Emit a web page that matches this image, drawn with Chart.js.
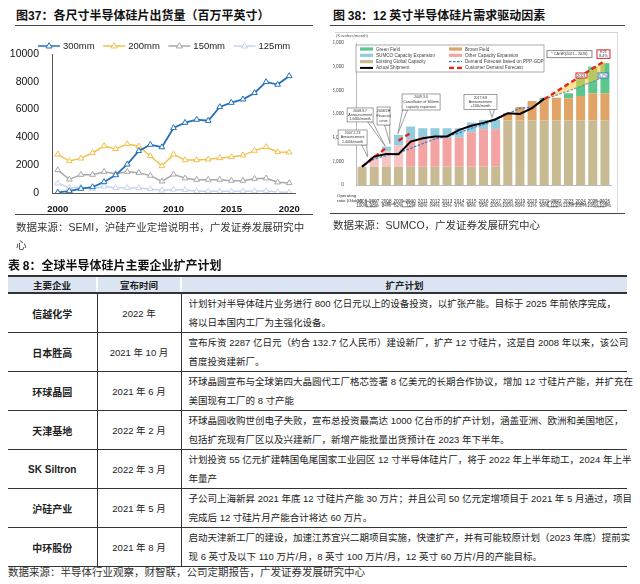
<!DOCTYPE html>
<html lang="zh-CN">
<head>
<meta charset="utf-8">
<script src="https://cdn.jsdelivr.net/npm/chart.js@4.4.1/dist/chart.umd.min.js"></script>
<style>
  body { margin: 0; width: 640px; height: 584px; position: relative; overflow: hidden; background: #fff;
    font-family: "Liberation Sans", "Noto Sans CJK SC", sans-serif; color: #222; }
  .abs { position: absolute; white-space: nowrap; }
  .title { font-size: 12px; font-weight: bold; line-height: 16px; color: #111; font-family: "Noto Sans CJK SC", sans-serif; }
  .title span { font-family: "Liberation Sans", sans-serif; }
  .rule { position: absolute; height: 0; border-top: 1.5px solid #444; }
  .src { font-size: 10.5px; line-height: 16px; color: #333; text-align: justify; text-align-last: justify; }
  .frame { position: absolute; border-top: 1.5px solid #d4d4d4; border-right: 1px solid #dcdcdc; }
  .box { position: absolute; }

  .tb { position: absolute; left: 8px; top: 275px; width: 619px; border-collapse: collapse; table-layout: fixed; }
  .tb th { height: 15px; padding: 0; background: #dbe5f1; border-top: 2px solid #333; border-bottom: 2px solid #333;
    border-left: 2px solid #fff; font-size: 9.5px; font-weight: bold; font-family: "Noto Sans CJK SC", sans-serif; }
  .tb th:first-child { border-left: none; }
  .tb td { height: 37px; padding: 0; border-bottom: 1.5px solid #333; text-align: center; vertical-align: middle; font-size: 9.5px; }
  .tb td + td { border-left: 1.5px solid #333; }
  .tb td.co { font-weight: bold; font-size: 10px; }
  .tb td.pl { text-align: left; padding: 0 12px 0 7px; }
  .pl div { line-height: 19px; white-space: nowrap; }
  .pl div.j { text-align: justify; text-align-last: justify; }
</style>
</head>
<body>

<div class="abs title" style="left:16px; top:7px;">图<span>37</span>：各尺寸半导体硅片出货量（百万平英寸）</div>
<div class="rule" style="left:15px; top:25px; width:298px;"></div>
<div class="box" style="left:10px; top:30px; width:303px; height:185px;"><canvas id="c37"></canvas></div>
<div class="rule" style="left:15px; top:214px; width:298px;"></div>
<div class="abs src" style="left:16px; top:219px; width:284px;">数据来源：SEMI，沪硅产业定增说明书，广发证券发展研究中</div>
<div class="abs src" style="left:16px; top:237px; text-align:left; text-align-last:left;">心</div>

<div class="abs title" style="left:333px; top:7px;">图 <span>38</span>：<span>12</span> 英寸半导体硅片需求驱动因素</div>
<div class="rule" style="left:330px; top:25px; width:295px;"></div>
<div class="frame" style="left:335px; top:32px; width:282px; height:180px;"></div>
<div class="box" style="left:333px; top:30px; width:287px; height:185px;"><canvas id="c38"></canvas></div>
<div class="rule" style="left:330px; top:213px; width:295px;"></div>
<div class="abs src" style="left:333px; top:217px; width:204px;">数据来源：SUMCO，广发证券发展研究中心</div>

<div class="abs title" style="left:8px; top:257px;">表 <span>8</span>：全球半导体硅片主要企业扩产计划</div>
<table class="tb">
  <colgroup><col style="width:89px"><col style="width:84px"><col></colgroup>
  <thead><tr><th>主要企业</th><th>宣布时间</th><th>扩产计划</th></tr></thead>
  <tbody>
    <tr><td class="co">信越化学</td><td>2022 年</td>
      <td class="pl"><div class="j">计划针对半导体硅片业务进行 800 亿日元以上的设备投资，以扩张产能。目标于 2025 年前依序完成，</div><div>将以日本国内工厂为主强化设备。</div></td></tr>
    <tr><td class="co">日本胜高</td><td>2021 年 10 月</td>
      <td class="pl"><div class="j">宣布斥资 2287 亿日元（约合 132.7 亿人民币）建设新厂，扩产 12 寸硅片，这是自 2008 年以来，该公司</div><div>首度投资建新厂。</div></td></tr>
    <tr><td class="co">环球晶圆</td><td>2021 年 6 月</td>
      <td class="pl"><div class="j">环球晶圆宣布与全球第四大晶圆代工厂格芯签署 8 亿美元的长期合作协议，增加 12 寸硅片产能，并扩充在</div><div>美国现有工厂的 8 寸产能</div></td></tr>
    <tr><td class="co">天津基地</td><td>2022 年 2 月</td>
      <td class="pl"><div class="j">环球晶圆收购世创电子失败，宣布总投资最高达 1000 亿台币的扩产计划，涵盖亚洲、欧洲和美国地区，</div><div>包括扩充现有厂区以及兴建新厂，新增产能批量出货预计在 2023 年下半年。</div></td></tr>
    <tr><td class="co">SK Siltron</td><td>2022 年 3 月</td>
      <td class="pl"><div class="j">计划投资 55 亿元扩建韩国龟尾国家工业园区 12 寸半导体硅片厂，将于 2022 年上半年动工，2024 年上半</div><div>年量产</div></td></tr>
    <tr><td class="co">沪硅产业</td><td>2021 年 5 月</td>
      <td class="pl"><div class="j">子公司上海新昇 2021 年底 12 寸硅片产能 30 万片；并且公司 50 亿元定增项目于 2021 年 5 月通过，项目</div><div>完成后 12 寸硅片月产能合计将达 60 万片。</div></td></tr>
    <tr><td class="co">中环股份</td><td>2021 年 8 月</td>
      <td class="pl"><div class="j">启动天津新工厂的建设，加速江苏宜兴二期项目实施，快速扩产，并有可能较原计划（2023 年底）提前实</div><div>现 6 英寸及以下 110 万片/月，8 英寸 100 万片/月，12 英寸 60 万片/月的产能目标。</div></td></tr>
  </tbody>
</table>
<div class="abs src" style="left:8px; top:564px; width:355px;">数据来源：半导体行业观察，财智联，公司定期报告，广发证券发展研究中心</div>

<script>
Chart.defaults.font.family = '"Liberation Sans", Arial, sans-serif';
Chart.defaults.color = '#222';
Chart.defaults.animation = false;

// Figure 37: wafer shipments by diameter (million square inches)
const years37 = ['2000', '2001', '2002', '2003', '2004', '2005', '2006', '2007', '2008', '2009', '2010',
  '2011', '2012', '2013', '2014', '2015', '2016', '2017', '2018', '2019', '2020'];
const w300 = [50, 140, 310, 430, 790, 1290, 2060, 3030, 3480, 3300, 4680, 5060, 5280, 5200, 6190, 6500, 6740, 7200, 7990, 7800, 8420];
const w200 = [2780, 2300, 2490, 2880, 3380, 3170, 3530, 3360, 2660, 1940, 2780, 2370, 2370, 2420, 2520, 2590, 2710, 3050, 3310, 2950, 2930];
const w150 = [1650, 980, 1320, 1320, 1530, 1390, 1530, 1460, 1250, 840, 1340, 1060, 960, 960, 960, 890, 890, 1030, 1060, 770, 720];
const w125 = [700, 380, 410, 310, 480, 360, 360, 360, 290, 190, 260, 220, 120, 120, 120, 120, 120, 140, 140, 70, 50];
const yTicks37 = [0, 2000, 4000, 6000, 8000, 10000];

// Figure 38: 12-inch wafer demand drivers (K wafers/month)
const years38 = ['2006', '2007', '2008', '2009', '2010', '2011', '2012', '2013', '2014', '2015', '2016',
  '2017', '2018', '2019', '2020', '2021', '2022', '2023', '2024', '2025', '2026'];
const opRatio = ['100%', '98%', '84%', '62%', '72%', '80%', '84%', '83%', '97%', '98%', '95%',
  '100%', '100%', '89%', '91%', '98%', '102%', '110%', '108%', '106%', '105%'];
const existingCap = [1550, 1550, 1550, 1550, 1550, 1550, 1550, 1550, 1550, 1550, 1550, 1550, 5450, 5450, 5450, 5450, 5450, 5450, 5450, 5450, 5450];
const otherExp = [null, 850, 1330, 1780, 2320, 2450, 2450, 2450, 2450, 2910, 3170, 3170, null, null, null, null, null, null, null, null, null];
const sumcoExp = [null, null, 370, 910, 1070, 800, 800, 800, 800, 820, 780, 780, null, null, null, null, null, null, null, null, null];
const brownField = [null, null, null, null, null, null, null, null, null, null, null, null, 640, 1140, 1650, 1800, 1930, 1870, 2070, 2300, 2300];
const greenField = [null, null, null, null, null, null, null, null, null, null, null, null, null, null, null, 130, null, 430, 1500, 2250, 2550];
const actualShip = [1550, 2400, 2630, 2600, 3670, 3950, 4100, 4100, 4660, 5000, 5250, 5560, 6070, 6000, 6500, 7300, null, null, null, null, null];
const demandPPP = [1550, 2200, 2500, 2700, 3100, 3500, 3900, 4100, 4400, 4800, 5100, 5500, 6000, 6500, 6550, 7250, 7600, 7950, 8350, 8750, 9200];
const customerEarly = [1550, 2350, 3150, 3750, 4400, null, null, null, null, null, null, null, null, null, null, null, null, null, null, null, null];
const customerLate = [null, null, null, null, null, null, null, null, null, null, null, null, null, null, null, 7250, 7900, 8550, 9200, 9850, 10500];
const yTicks38 = [0, 2000, 4000, 6000, 8000, 10000, 12000];

function triangle(ctx, x, y, r, stroke) {
  ctx.beginPath();
  ctx.moveTo(x, y - r);
  ctx.lineTo(x + r * 0.95, y + r * 0.6);
  ctx.lineTo(x - r * 0.95, y + r * 0.6);
  ctx.closePath();
  ctx.fillStyle = '#fff';
  ctx.fill();
  ctx.lineWidth = 1;
  ctx.strokeStyle = stroke;
  ctx.stroke();
}

// legend: line with a hollow triangle, as in the source
const lineLegend = {
  id: 'lineLegend',
  afterDraw(chart) {
    const { ctx, chartArea } = chart;
    const y = chartArea.top - 8;
    let x = chartArea.left - 14;
    ctx.save();
    ctx.font = '9.5px "Liberation Sans"';
    ctx.textBaseline = 'middle';
    chart.data.datasets.forEach(ds => {
      ctx.strokeStyle = ds.borderColor;
      ctx.lineWidth = 1.5;
      ctx.beginPath();
      ctx.moveTo(x, y);
      ctx.lineTo(x + 22, y);
      ctx.stroke();
      triangle(ctx, x + 11, y, 3.3, ds.borderColor);
      ctx.fillStyle = '#222';
      ctx.fillText(ds.label, x + 25, y + 0.5);
      x += 25 + ctx.measureText(ds.label).width + 8.5;
    });
    ctx.restore();
  }
};

function lineSet(label, data, color, width) {
  return {
    label, data, borderColor: color, borderWidth: width,
    pointStyle: 'triangle', pointRadius: 3.3, pointBorderWidth: 1,
    pointBackgroundColor: '#fff', pointBorderColor: color, tension: 0
  };
}

new Chart(document.getElementById('c37'), {
  type: 'line',
  data: {
    labels: years37,
    datasets: [
      lineSet('300mm', w300, '#2470b8', 1.8),
      lineSet('200mm', w200, '#f0c14a', 1.5),
      lineSet('150mm', w150, '#a8a8a8', 1.5),
      lineSet('125mm', w125, '#c5d5ef', 1.5)
    ]
  },
  options: {
    responsive: true, maintainAspectRatio: false,
    layout: { padding: { top: 24, right: 18, left: 0, bottom: 0 } },
    plugins: { legend: { display: false }, tooltip: { enabled: false } },
    scales: {
      x: {
        offset: true,
        afterFit(scale) { scale.height = 22; },
        grid: { display: false },
        border: { color: '#555', width: 1 },
        ticks: {
          autoSkip: false, maxRotation: 0, padding: 3, color: '#111',
          font: { size: 9.5, weight: 'bold' },
          callback(v, i) { return Number(years37[i]) % 5 === 0 ? years37[i] : ''; }
        }
      },
      y: {
        min: 0, max: 10000,
        afterFit(scale) { scale.width = 42; },
        afterBuildTicks(scale) { scale.ticks = yTicks37.map(v => ({ value: v })); },
        grid: { display: false },
        border: { color: '#555', width: 1 },
        ticks: { padding: 5, color: '#111', font: { size: 10.5 }, callback(v) { return String(v); } }
      }
    }
  },
  plugins: [lineLegend]
});

// ---------- Figure 38 decorations ----------
function callout(ctx, lines, cx, cy, w, h, tx, ty) {
  const l = cx - w / 2, t = cy - h / 2;
  ctx.fillStyle = '#fff';
  ctx.strokeStyle = '#777';
  ctx.lineWidth = 0.7;
  // pointer
  const bx = Math.min(Math.max(tx, l + 3), l + w - 3);
  const by = ty > t + h ? t + h : t;
  ctx.beginPath();
  ctx.moveTo(bx - 2.5, by);
  ctx.lineTo(tx, ty);
  ctx.lineTo(bx + 2.5, by);
  ctx.closePath();
  ctx.fill();
  ctx.stroke();
  ctx.fillRect(l, t, w, h);
  ctx.strokeRect(l, t, w, h);
  ctx.fillStyle = '#333';
  ctx.textAlign = 'center';
  ctx.textBaseline = 'middle';
  const lh = h / (lines.length + 0.4);
  lines.forEach((s, k) => ctx.fillText(s, cx, t + lh * 0.7 + lh * k));
}

function tagBox(ctx, lines, cx, cy, w, h, color) {
  ctx.fillStyle = '#fff';
  ctx.fillRect(cx - w / 2, cy - h / 2, w, h);
  ctx.strokeStyle = color;
  ctx.lineWidth = 1;
  ctx.strokeRect(cx - w / 2, cy - h / 2, w, h);
  ctx.fillStyle = '#333';
  ctx.textAlign = 'center';
  ctx.textBaseline = 'middle';
  const lh = h / lines.length;
  lines.forEach((s, k) => ctx.fillText(s, cx, cy - h / 2 + lh * (k + 0.5)));
}

function band(ctx, x0, x1, y, label) {
  ctx.strokeStyle = '#555';
  ctx.lineWidth = 0.7;
  ctx.beginPath();
  ctx.moveTo(x0 + 11, y - 2.8); ctx.lineTo(x0, y - 2.8); ctx.lineTo(x0, y + 2.8); ctx.lineTo(x0 + 11, y + 2.8);
  ctx.moveTo(x1 - 14, y - 2.8); ctx.lineTo(x1 - 3, y - 2.8); ctx.lineTo(x1, y); ctx.lineTo(x1 - 3, y + 2.8); ctx.lineTo(x1 - 14, y + 2.8);
  ctx.stroke();
  ctx.fillStyle = '#444';
  ctx.textAlign = 'center';
  ctx.textBaseline = 'middle';
  ctx.fillText(label, (x0 + x1) / 2, y);
}

const sumcoDecor = {
  id: 'sumcoDecor',
  afterDraw(chart) {
    const { ctx, chartArea: a, scales: { x, y } } = chart;
    const step = x.getPixelForValue(1) - x.getPixelForValue(0);
    const px = i => x.getPixelForValue(0) + i * step;
    const py = v => y.getPixelForValue(v);
    ctx.save();

    // unit
    ctx.font = '4.2px "Liberation Sans"';
    ctx.fillStyle = '#555';
    ctx.textBaseline = 'middle';
    ctx.fillText('(K wafers/month)', a.left - 20, a.top - 7);

    // operating ratio row caption
    ctx.font = '4.4px "Liberation Sans"';
    ctx.fillStyle = '#333';
    ctx.fillText('Operating', a.left - 19, a.bottom + 11);
    ctx.fillText('ratio (Global)', a.left - 19, a.bottom + 16);

    // plan / forecast arrows
    ctx.font = '4.4px "Liberation Sans"';
    band(ctx, px(0.33), px(4.4), a.bottom + 19, 'Plan');
    band(ctx, px(15.3), px(20.2), a.bottom + 19, 'Forecast');

    // legend box
    const ds = chart.data.datasets;
    const rows = [[4, 3], [2, 1], [0, 5], [6, 7]];
    const lx = a.left, lt = a.top + 2, lw = 188, lhgt = 27;
    ctx.fillStyle = '#fff';
    ctx.fillRect(lx, lt, lw, lhgt);
    ctx.strokeStyle = '#888';
    ctx.lineWidth = 0.7;
    ctx.strokeRect(lx, lt, lw, lhgt);
    ctx.font = '4.6px "Liberation Sans"';
    ctx.textAlign = 'left';
    rows.forEach((pair, r) => {
      const ry = lt + 4 + r * 6.3;
      pair.forEach((di, c) => {
        const d = ds[di];
        const sx = lx + 4 + c * 89;
        if (d.type === 'line') {
          ctx.strokeStyle = d.borderColor;
          ctx.lineWidth = d.borderWidth;
          ctx.setLineDash(d.borderDash || []);
          ctx.beginPath(); ctx.moveTo(sx, ry); ctx.lineTo(sx + 13, ry); ctx.stroke();
          ctx.setLineDash([]);
        } else {
          ctx.fillStyle = Array.isArray(d.backgroundColor) ? d.backgroundColor[d.backgroundColor.length - 1] : d.backgroundColor;
          ctx.fillRect(sx, ry - 1.6, 13, 3.2);
        }
        ctx.fillStyle = '#444';
        ctx.fillText(d.label, sx + 16, ry + 0.3);
      });
    });

    // callouts
    ctx.font = '3.5px "Liberation Sans"';
    callout(ctx, ['2007.2.23', 'Announcement', '1,400k/month'], px(-0.78), py(4015), 29, 15, px(0.45), py(2400));
    callout(ctx, ['2008.3.7', 'Announcement', '1,660k/month'], px(-0.16), py(5920), 26, 14, px(1.9), py(3300));
    callout(ctx, ['2008/2H', 'Financial', 'crisis'], px(1.77), py(5830), 13, 18, px(2.3), py(3500));
    callout(ctx, ['2009.3.6', 'Cancellation of 300mm', 'capacity expansion'], px(4.86), py(7015), 38, 16, px(2.95), py(4350));
    callout(ctx, ['2017.8.8', 'Announcement', '+110k/month'], px(9.75), py(7015), 33, 15, px(10.7), py(5700));

    // CAGR tags
    ctx.font = '3.8px "Liberation Sans"';
    tagBox(ctx, ['* CAGR(2021 - 2026)'], px(17.08), py(11060), 45, 7, '#888');
    tagBox(ctx, ['K21', '8.4%'], px(19.88), py(11060), 13, 8.5, '#d9262b');
    tagBox(ctx, ['2021'], px(18.07), py(9255), 11, 5, '#d9262b');
    tagBox(ctx, ['5.7%'], px(19.84), py(9255), 10, 5, '#2f7fc1');
    ctx.restore();
  }
};

const pinkShades = years38.map((yr, i) => (i >= 1 && i <= 3) ? '#f8c4c4' : '#f4a3a3');

function barSet(label, data, color) {
  return { type: 'bar', label, data, backgroundColor: color, stack: 'cap', order: 5,
    barPercentage: 0.74, categoryPercentage: 1, borderWidth: 0 };
}

new Chart(document.getElementById('c38'), {
  data: {
    labels: years38.map((yr, i) => [yr, opRatio[i]]),
    datasets: [
      barSet('Existing Global Capacity', existingCap, '#c8bb93'),
      barSet('Other Capacity Expansion', otherExp, pinkShades),
      barSet('SUMCO Capacity Expansion', sumcoExp, '#93cddd'),
      barSet('Brown Field', brownField, '#e0a566'),
      barSet('Green Field', greenField, '#5cc68c'),
      { type: 'line', label: 'Demand Forecast based on PPP-GDP', data: demandPPP, stack: 'ppp', order: 3,
        borderColor: '#2f7fd0', borderWidth: 1.2, borderDash: [2.5, 1.5], pointRadius: 0, fill: false },
      { type: 'line', label: 'Actual Shipment', data: actualShip, stack: 'act', order: 0,
        borderColor: '#000', borderWidth: 2, pointRadius: 0, fill: false },
      { type: 'line', label: 'Customer Demand Forecast', data: customerEarly, stack: 'cus1', order: 1,
        borderColor: '#e5231f', borderWidth: 2.4, borderDash: [5, 3], pointRadius: 0, fill: false,
        segment: { borderColor: c => c.p0DataIndex === 2 ? 'rgba(0,0,0,0)' : undefined } },
      { type: 'line', label: 'Customer Demand Forecast', data: customerLate, stack: 'cus2', order: 1,
        borderColor: '#e5231f', borderWidth: 2.4, borderDash: [5, 3], pointRadius: 0,
        fill: { target: 5 }, backgroundColor: 'rgba(255, 204, 60, 0.55)' }
    ]
  },
  options: {
    responsive: true, maintainAspectRatio: false,
    layout: { padding: { top: 13, right: 9, left: 0, bottom: 0 } },
    plugins: { legend: { display: false }, tooltip: { enabled: false }, filler: { drawTime: 'beforeDatasetDraw' } },
    scales: {
      x: {
        stacked: true,
        afterFit(scale) { scale.height = 30; },
        grid: { display: false },
        border: { color: '#aaa', width: 0.8 },
        ticks: { autoSkip: false, maxRotation: 0, padding: 6, color: '#333', font: { size: 4.6, lineHeight: 1 } }
      },
      y: {
        stacked: true, min: 0, max: 12000,
        afterFit(scale) { scale.width = 23; },
        afterBuildTicks(scale) { scale.ticks = yTicks38.map(v => ({ value: v })); },
        grid: { display: false },
        border: { color: '#aaa', width: 0.8 },
        ticks: { padding: 4, color: '#444', font: { size: 4.8 },
          callback(v) { return v.toLocaleString('en-US'); } }
      }
    }
  },
  plugins: [sumcoDecor]
});
</script>
</body>
</html>
